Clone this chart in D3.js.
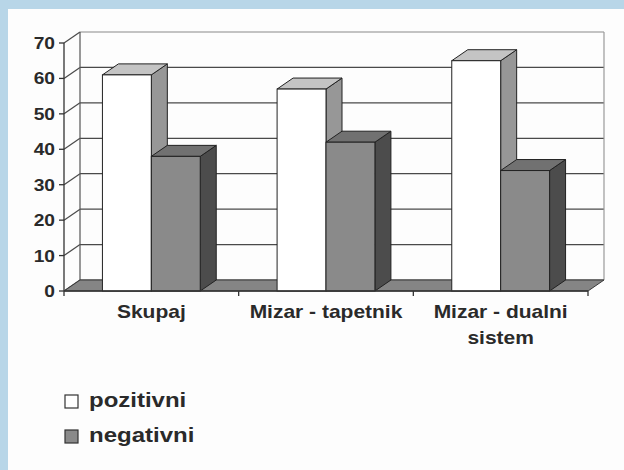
<!DOCTYPE html>
<html>
<head>
<meta charset="utf-8">
<script src="https://cdn.jsdelivr.net/npm/d3@7"></script>
<style>
  html, body { margin: 0; padding: 0; background: #fff; }
  svg { display: block; }
</style>
</head>
<body>
<div id="chart"></div>
<script>
// data
const categoryLabels = [["Skupaj"], ["Mizar - tapetnik"], ["Mizar - dualni", "sistem"]];
const categories = ["Skupaj", "Mizar - tapetnik", "Mizar - dualni sistem"];
const series = ["pozitivni", "negativni"];
const pozitivni = [61, 57, 65];
const negativni = [38, 42, 34];
const yTicks = [0, 10, 20, 30, 40, 50, 60, 70];

const w = 624, h = 470;
const font = "'Liberation Sans', Arial, sans-serif";
const stretch = 1.2; // the scan is a bit wider than tall
const depthX = 16, depthY = 11;

const faces = {
  pozitivni: { front: "#ffffff", top: "#c4c4c4", side: "#979797" },
  negativni: { front: "#8a8a8a", top: "#717171", side: "#4c4c4c" }
};

let svg = d3.select("#chart").append("svg")
  .attr("width", w).attr("height", h);

// blue frame + white sheet
svg.append("rect").attr("width", w).attr("height", h).attr("fill", "#b8d6e8");
svg.append("rect").attr("x", 8).attr("y", 9).attr("width", w - 8).attr("height", h - 9).attr("fill", "#fdfdfd");

let y = d3.scaleLinear().domain([0, 70]).range([291, 43]);
let x0 = d3.scaleBand().domain(categories).range([64, 588]);
let groupW = x0.bandwidth() * 0.56;
let x1 = d3.scaleBand().domain(series)
  .range([(x0.bandwidth() - groupW) / 2, (x0.bandwidth() + groupW) / 2]);

const left = x0.range()[0], right = x0.range()[1];

// back wall gridlines
let grid = svg.append("g");
grid.selectAll("line.back")
  .data(yTicks)
  .enter().append("line")
  .attr("x1", left + depthX).attr("x2", right + depthX)
  .attr("y1", d => y(d) - depthY).attr("y2", d => y(d) - depthY)
  .attr("stroke", d => d == 70 ? "#8a8a8a" : "#4a4a4a")
  .attr("stroke-width", 1.2);

// side wall diagonals
grid.selectAll("line.side")
  .data(yTicks)
  .enter().append("line")
  .attr("x1", left).attr("x2", left + depthX)
  .attr("y1", d => y(d)).attr("y2", d => y(d) - depthY)
  .attr("stroke", "#4a4a4a")
  .attr("stroke-width", 1.2);

// wall edges
grid.append("line")
  .attr("x1", left + depthX).attr("x2", left + depthX)
  .attr("y1", y(70) - depthY).attr("y2", y(0) - depthY)
  .attr("stroke", "#555").attr("stroke-width", 1.2);
grid.append("line")
  .attr("x1", right + depthX).attr("x2", right + depthX)
  .attr("y1", y(70) - depthY).attr("y2", y(0) - depthY)
  .attr("stroke", "#9a9a9a").attr("stroke-width", 1.2);

// floor
svg.append("path")
  .attr("d", `M${left},${y(0)}L${right},${y(0)}L${right + depthX},${y(0) - depthY}L${left + depthX},${y(0) - depthY}Z`)
  .attr("fill", "#858585")
  .attr("stroke", "#3a3a3a")
  .attr("stroke-width", 1);

// bars, left to right so the next front face covers the previous side
let rows = [];
categories.forEach((c, i) => {
  rows.push({ cat: c, key: "pozitivni", value: pozitivni[i] });
  rows.push({ cat: c, key: "negativni", value: negativni[i] });
});

let bars = svg.append("g").selectAll("g")
  .data(rows)
  .enter().append("g");

bars.each(function(d) {
  let g = d3.select(this);
  let bx = x0(d.cat) + x1(d.key);
  let bw = x1.bandwidth();
  let top = y(d.value), base = y(0);
  let col = faces[d.key];
  g.append("path")
    .attr("d", `M${bx + bw},${base}L${bx + bw + depthX},${base - depthY}L${bx + bw + depthX},${top - depthY}L${bx + bw},${top}Z`)
    .attr("fill", col.side).attr("stroke", "#222").attr("stroke-width", 1);
  g.append("path")
    .attr("d", `M${bx},${top}L${bx + depthX},${top - depthY}L${bx + bw + depthX},${top - depthY}L${bx + bw},${top}Z`)
    .attr("fill", col.top).attr("stroke", "#222").attr("stroke-width", 1);
  g.append("rect")
    .attr("x", bx).attr("y", top)
    .attr("width", bw).attr("height", base - top)
    .attr("fill", col.front).attr("stroke", "#222").attr("stroke-width", 1);
});

// axes
let axes = svg.append("g");
axes.append("line")
  .attr("x1", left).attr("x2", left)
  .attr("y1", y(70)).attr("y2", y(0))
  .attr("stroke", "#333").attr("stroke-width", 1.3);
axes.append("line")
  .attr("x1", left).attr("x2", right)
  .attr("y1", y(0)).attr("y2", y(0))
  .attr("stroke", "#333").attr("stroke-width", 1.3);

axes.selectAll("line.ytick")
  .data(yTicks)
  .enter().append("line")
  .attr("x1", left - 5).attr("x2", left)
  .attr("y1", d => y(d)).attr("y2", d => y(d))
  .attr("stroke", "#333").attr("stroke-width", 1.3);

let catTicks = categories.map(c => x0(c)).concat([right]);
axes.selectAll("line.xtick")
  .data(catTicks)
  .enter().append("line")
  .attr("x1", d => d).attr("x2", d => d)
  .attr("y1", y(0)).attr("y2", y(0) + 5)
  .attr("stroke", "#333").attr("stroke-width", 1.3);

axes.selectAll("text.ylab")
  .data(yTicks)
  .enter().append("text")
  .attr("transform", d => `translate(${left - 9},${y(d) + 6}) scale(${stretch},1)`)
  .attr("text-anchor", "end")
  .attr("font-family", font)
  .attr("font-weight", "bold")
  .attr("font-size", 16)
  .attr("fill", "#2a2a2a")
  .text(d => d);

let catText = axes.selectAll("g.cat")
  .data(categories)
  .enter().append("text")
  .attr("transform", d => `translate(${x0(d) + x0.bandwidth() / 2},318) scale(${stretch},1)`)
  .attr("text-anchor", "middle")
  .attr("font-family", font)
  .attr("font-weight", "bold")
  .attr("font-size", 17.5)
  .attr("fill", "#2a2a2a");

catText.each(function(d, i) {
  d3.select(this).selectAll("tspan")
    .data(categoryLabels[i])
    .enter().append("tspan")
    .attr("x", 0)
    .attr("dy", (t, j) => j == 0 ? 0 : 26)
    .text(t => t);
});

// legend
let legend = svg.append("g").selectAll("g")
  .data(series)
  .enter().append("g")
  .attr("transform", (d, i) => `translate(65,${395 + i * 35})`);

legend.append("rect")
  .attr("width", 13).attr("height", 13)
  .attr("fill", d => faces[d].front)
  .attr("stroke", "#333").attr("stroke-width", 1.2);

legend.append("text")
  .attr("transform", `translate(24,12) scale(${stretch},1)`)
  .attr("font-family", font)
  .attr("font-weight", "bold")
  .attr("font-size", 20)
  .attr("fill", "#2a2a2a")
  .text(d => d);
</script>
</body>
</html>
